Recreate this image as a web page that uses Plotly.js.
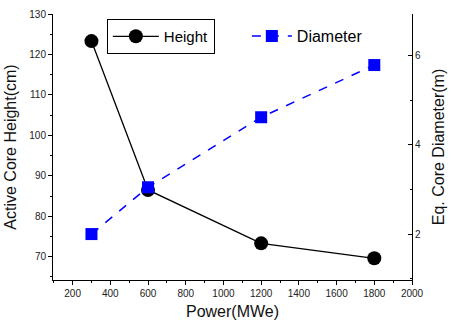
<!DOCTYPE html>
<html>
<head>
<meta charset="utf-8">
<script src="https://cdn.plot.ly/plotly-3.0.1.min.js"></script>
<style>html,body{margin:0;padding:0;background:#fff}#chart{width:452px;height:324px}</style>
</head>
<body>
<div id="chart"></div>
<script>
const power = [300, 600, 1200, 1800];
const height = [123.3, 86.5, 73.3, 69.6];
const diameter = [2.0, 3.05, 4.62, 5.79];
const xTicks = [200, 400, 600, 800, 1000, 1200, 1400, 1600, 1800, 2000];
const yTicks = [70, 80, 90, 100, 110, 120, 130];
const y2Ticks = [2, 4, 6];

const F = 'Arial, "Liberation Sans", sans-serif';

const traces = [
  {x: power, y: height, name: 'Height', type: 'scatter', mode: 'lines+markers',
   line: {color: '#000', width: 1.3}, marker: {symbol: 'circle', size: 14, color: '#000'},
   xaxis: 'x', yaxis: 'y', legend: 'legend'},
  {x: power, y: diameter, name: 'Diameter', type: 'scatter', mode: 'lines+markers',
   line: {color: '#0000ff', width: 1.5, dash: 'dash'}, marker: {symbol: 'square', size: 12, color: '#0000ff'},
   xaxis: 'x', yaxis: 'y2', legend: 'legend2'}
];

const layout = {
  width: 452, height: 324,
  margin: {l: 53, r: 40, t: 14, b: 44},
  paper_bgcolor: '#fff', plot_bgcolor: '#fff',
  font: {family: F, color: '#222', size: 10},
  xaxis: {range: [96, 2000], tickvals: xTicks, ticks: 'outside', ticklen: 4, tickcolor: '#000',
    showline: true, linecolor: '#000', linewidth: 1, showgrid: false, zeroline: false,
    minor: {dtick: 100, tick0: 100, ticks: 'outside', ticklen: 2, tickcolor: '#000'},
    tickfont: {size: 10, family: F, color: '#222'},
    title: {text: 'Power(MWe)', font: {size: 16, family: F, color: '#111'}, standoff: 7}},
  xaxis2: {range: [96, 2000], overlaying: 'x', side: 'top', anchor: 'y', tickvals: xTicks,
    ticks: 'inside', ticklen: 3, tickcolor: '#000', showticklabels: false,
    showline: true, linecolor: '#000', linewidth: 1, showgrid: false, zeroline: false,
    minor: {dtick: 100, tick0: 100, ticks: 'inside', ticklen: 2, tickcolor: '#000'}},
  yaxis: {range: [64.24, 130], tickvals: yTicks, ticks: 'outside', ticklen: 4, tickcolor: '#000',
    showline: true, linecolor: '#000', linewidth: 1, showgrid: false, zeroline: false,
    minor: {dtick: 5, tick0: 65, ticks: 'outside', ticklen: 2, tickcolor: '#000'},
    tickfont: {size: 10, family: F, color: '#222'},
    title: {text: 'Active Core Height(cm)', font: {size: 16, family: F, color: '#111'}, standoff: 8}},
  yaxis2: {range: [0.97, 6.935], overlaying: 'y', side: 'right', tickvals: y2Ticks,
    ticks: 'inside', ticklen: 4, tickcolor: '#000',
    showline: true, linecolor: '#000', linewidth: 1, showgrid: false, zeroline: false,
    minor: {dtick: 1, tick0: 1, ticks: 'inside', ticklen: 2, tickcolor: '#000'},
    tickfont: {size: 10, family: F, color: '#222'},
    title: {text: 'Eq. Core Diameter(m)', font: {size: 16, family: F, color: '#111'}, standoff: 12}},
  showlegend: true,
  legend: {x: 0.15, y: 0.981, xanchor: 'left', yanchor: 'top', bgcolor: '#fff',
    bordercolor: '#000', borderwidth: 1, font: {size: 15, family: F, color: '#000'},
    itemwidth: 46, tracegroupgap: 0},
  legend2: {x: 0.54, y: 0.981, xanchor: 'left', yanchor: 'top', bgcolor: 'rgba(0,0,0,0)',
    borderwidth: 0, font: {size: 16, family: F, color: '#000'}, itemwidth: 40}
};

Plotly.newPlot('chart', traces, layout, {displayModeBar: false, staticPlot: true});
</script>
</body>
</html>
